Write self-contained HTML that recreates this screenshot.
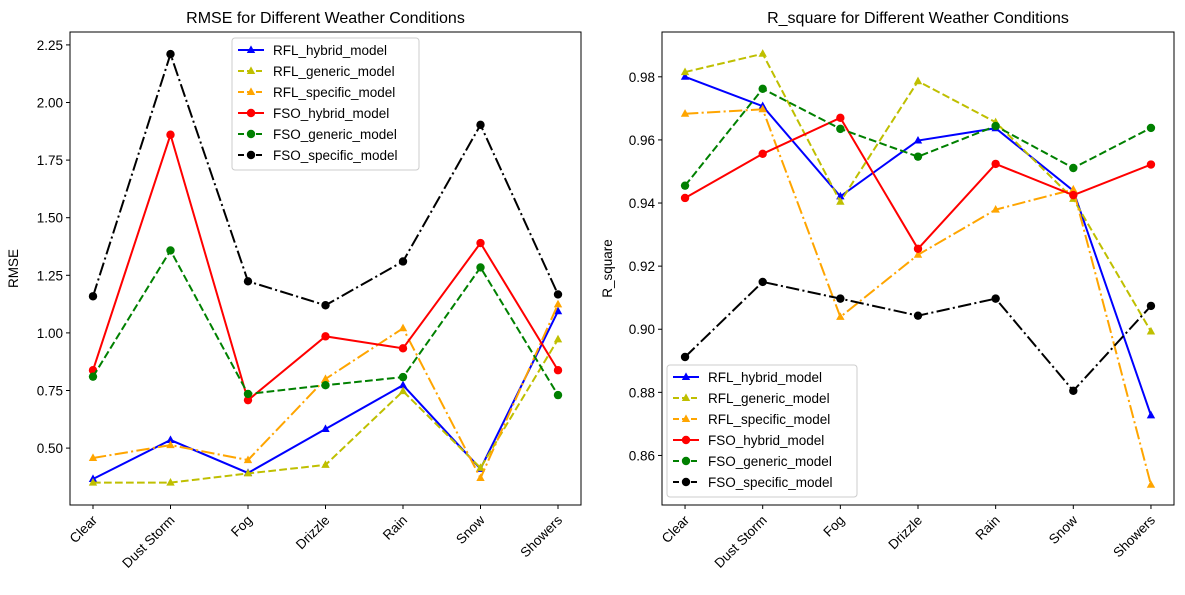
<!DOCTYPE html>
<html><head><meta charset="utf-8"><style>
body{margin:0;background:#fff;width:1185px;height:590px;overflow:hidden}
svg text{font-family:"Liberation Sans","DejaVu Sans",sans-serif;fill:#000}
</style></head><body>
<svg id="c" width="1185" height="590"></svg>
<script>
const categories=["Clear","Dust Storm","Fog","Drizzle","Rain","Snow","Showers"];
const seriesNames=["RFL_hybrid_model","RFL_generic_model","RFL_specific_model","FSO_hybrid_model","FSO_generic_model","FSO_specific_model"];
const rmseRflHybrid=[0.366,0.535,0.392,0.583,0.773,0.41,1.094];
const rmseRflGeneric=[0.35,0.35,0.39,0.427,0.747,0.414,0.972];
const rmseRflSpecific=[0.457,0.513,0.448,0.80,1.02,0.37,1.124];
const rmseFsoHybrid=[0.838,1.86,0.708,0.985,0.933,1.39,0.838];
const rmseFsoGeneric=[0.81,1.358,0.735,0.773,0.808,1.284,0.73];
const rmseFsoSpecific=[1.159,2.21,1.224,1.12,1.31,1.903,1.167];
const r2RflHybrid=[0.98,0.9707,0.9421,0.9598,0.9637,0.9439,0.8727];
const r2RflGeneric=[0.9815,0.9873,0.9404,0.9786,0.9656,0.9413,0.8993];
const r2RflSpecific=[0.9683,0.9697,0.9039,0.9236,0.9379,0.9443,0.8507];
const r2FsoHybrid=[0.9416,0.9556,0.967,0.9255,0.9524,0.9425,0.9522];
const r2FsoGeneric=[0.9455,0.9762,0.9635,0.9547,0.9644,0.9511,0.9638];
const r2FsoSpecific=[0.8912,0.915,0.9097,0.9043,0.9097,0.8805,0.9074];
const rmseTicks=["0.50","0.75","1.00","1.25","1.50","1.75","2.00","2.25"];
const r2Ticks=["0.86","0.88","0.90","0.92","0.94","0.96","0.98"];

const NS="http://www.w3.org/2000/svg";
const svg=document.getElementById('c');
function mk(tag,attrs,parent){const e=document.createElementNS(NS,tag);for(const k in attrs)e.setAttribute(k,attrs[k]);(parent||svg).appendChild(e);return e;}
const styles=[
 {color:"#0000ff",dash:"",marker:"tri"},
 {color:"#bfbf00",dash:"7.7,3.3",marker:"tri"},
 {color:"#ffa500",dash:"13.3,3.3,2.1,3.3",marker:"tri"},
 {color:"#ff0000",dash:"",marker:"circ"},
 {color:"#008000",dash:"7.7,3.3",marker:"circ"},
 {color:"#000000",dash:"13.3,3.3,2.1,3.3",marker:"circ"}];
function marker(g,x,y,s){
 if(s.marker==="tri"){const p=mk('polygon',{points:`${x},${y-4.6} ${x-4.2},${y+3} ${x+4.2},${y+3}`,fill:s.color},g);}
 else{const c=mk('circle',{cx:x,cy:y,r:4.2,fill:s.color},g);}
}
function panel(o){
 const {x0,x1,y0,y1,ymin,ymax,ticks,data,title,ylabel,legend,name}=o;
 const g=mk('g',{});
 const n=categories.length,pad=(x1-x0)*0.045;
 const xs=i=>x0+pad+i*(x1-x0-2*pad)/(n-1);
 const ys=v=>y1-(v-ymin)/(ymax-ymin)*(y1-y0);
 ticks.forEach(t=>{const y=ys(parseFloat(t));mk('line',{x1:x0-4,x2:x0,y1:y,y2:y,stroke:"#000"},g);
  const tx=mk('text',{x:x0-7,y:y+5,'text-anchor':'end','font-size':13.5},g);tx.textContent=t;});
 categories.forEach((c,i)=>{const x=xs(i);mk('line',{x1:x,x2:x,y1:y1,y2:y1+4,stroke:"#000"},g);
  const tx=mk('text',{x:x+5,y:y1+16,'text-anchor':'end','font-size':13.5,transform:`rotate(-45 ${x+5} ${y1+16})`},g);tx.textContent=c;});
 data.forEach((d,k)=>{const s=styles[k];const sg=mk('g',{},g);
  mk('polyline',{points:d.map((v,i)=>xs(i)+','+ys(v)).join(' '),fill:'none',stroke:s.color,'stroke-width':2,'stroke-dasharray':s.dash},sg);
  d.forEach((v,i)=>marker(sg,xs(i),ys(v),s));});
 mk('rect',{x:x0,y:y0,width:x1-x0,height:y1-y0,fill:'none',stroke:'#000','stroke-width':1},g);
 const tt=mk('text',{x:(x0+x1)/2,y:y0-9,'text-anchor':'middle','font-size':16},g);tt.textContent=title;
 const yl=mk('text',{x:0,y:0,'text-anchor':'middle','font-size':13.5,transform:`translate(${o.ylx},${(y0+y1)/2}) rotate(-90)`},g);yl.textContent=ylabel;
 const lg=mk('g',{},g);
 mk('rect',{x:legend.x,y:legend.y,width:legend.w,height:132,rx:3,fill:'#fff','fill-opacity':0.8,stroke:'#ccc'},lg);
 seriesNames.forEach((nm,k)=>{const s=styles[k],yy=legend.y+12+k*21;
  const eg=mk('g',{},lg);
  mk('line',{x1:legend.x+6,x2:legend.x+32,y1:yy,y2:yy,stroke:s.color,'stroke-width':2,'stroke-dasharray':s.dash==''?'':'6,3'},eg);
  marker(eg,legend.x+19,yy,s);
  const t=mk('text',{x:legend.x+41,y:yy+5,'font-size':13.5},eg);t.textContent=nm;});
}
panel({name:'rmse-panel',x0:70,x1:581,y0:32,y1:505,ymin:0.253,ymax:2.306,ticks:rmseTicks,
 data:[rmseRflHybrid,rmseRflGeneric,rmseRflSpecific,rmseFsoHybrid,rmseFsoGeneric,rmseFsoSpecific],
 title:"RMSE for Different Weather Conditions",ylabel:"RMSE",ylx:18,legend:{x:232,y:38,w:187}});
panel({name:'r-square-panel',x0:662,x1:1174,y0:32,y1:505,ymin:0.8443,ymax:0.9942,ticks:r2Ticks,
 data:[r2RflHybrid,r2RflGeneric,r2RflSpecific,r2FsoHybrid,r2FsoGeneric,r2FsoSpecific],
 title:"R_square for Different Weather Conditions",ylabel:"R_square",ylx:612,legend:{x:667,y:365,w:190}});
</script>
</body></html>
